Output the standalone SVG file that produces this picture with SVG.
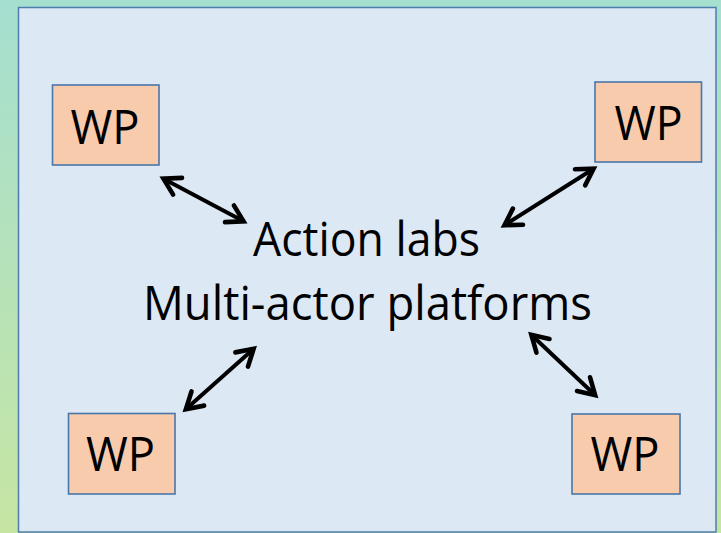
<svg xmlns="http://www.w3.org/2000/svg" width="721" height="533" viewBox="0 0 721 533">
  <defs>
    <linearGradient id="bg" x1="0" y1="0" x2="0" y2="1">
      <stop offset="0" stop-color="#a5dfd0"/>
      <stop offset="1" stop-color="#c6e5a3"/>
    </linearGradient>
    <marker id="head" markerUnits="userSpaceOnUse" markerWidth="34" markerHeight="34" viewBox="-22 -17 34 34" refX="0" refY="0" orient="auto-start-reverse">
      <path d="M-16.5,-9.5 L-0.5,0 L-16.5,9.5" fill="none" stroke="#000" stroke-width="4.6" stroke-linecap="round" stroke-linejoin="miter"/>
    </marker>
  </defs>
  <style>
    .wp rect { fill: #f8cbad; stroke: #4a76a8; stroke-width: 1.6; }
    .wp text { font-family: "Open Sans", "Liberation Sans", sans-serif; font-size: 47px; fill: #000; text-anchor: middle; }
    .label { font-family: "Open Sans", "Liberation Sans", sans-serif; font-size: 47px; fill: #000; }
    .link { stroke: #000; stroke-width: 4; fill: none; marker-start: url(#head); marker-end: url(#head); }
  </style>

  <!-- backdrop and panel -->
  <rect x="0" y="0" width="721" height="533" fill="url(#bg)"/>
  <rect x="18.5" y="7.5" width="697.5" height="524.5" fill="#dde8f5" stroke="#4f7cad" stroke-width="1.5"/>

  <!-- central label -->
  <g id="center">
    <text class="label" x="253" y="256" textLength="227" lengthAdjust="spacingAndGlyphs">Action labs</text>
    <text class="label" x="143" y="320" textLength="449" lengthAdjust="spacingAndGlyphs">Multi-actor platforms</text>
  </g>

  <!-- work packages -->
  <g id="wp-top-left" class="wp">
    <rect x="52.5" y="85" width="106.5" height="80"/>
    <text x="105" y="143.5" textLength="69" lengthAdjust="spacingAndGlyphs">WP</text>
  </g>
  <g id="wp-top-right" class="wp">
    <rect x="595" y="82" width="106.5" height="80"/>
    <text x="648.5" y="140" textLength="68" lengthAdjust="spacingAndGlyphs">WP</text>
  </g>
  <g id="wp-bottom-left" class="wp">
    <rect x="68.5" y="413.5" width="106.5" height="80.5"/>
    <text x="120.5" y="471" textLength="69" lengthAdjust="spacingAndGlyphs">WP</text>
  </g>
  <g id="wp-bottom-right" class="wp">
    <rect x="572" y="414" width="108" height="80"/>
    <text x="625" y="471" textLength="69" lengthAdjust="spacingAndGlyphs">WP</text>
  </g>

  <!-- two-way connectors -->
  <g id="connectors">
    <line class="link" x1="163" y1="178.5" x2="244" y2="221.5"/>
    <line class="link" x1="504" y1="225.5" x2="594" y2="168.5"/>
    <line class="link" x1="254" y1="348.5" x2="185.5" y2="409.5"/>
    <line class="link" x1="531" y1="334.5" x2="595.5" y2="395.5"/>
  </g>
</svg>
